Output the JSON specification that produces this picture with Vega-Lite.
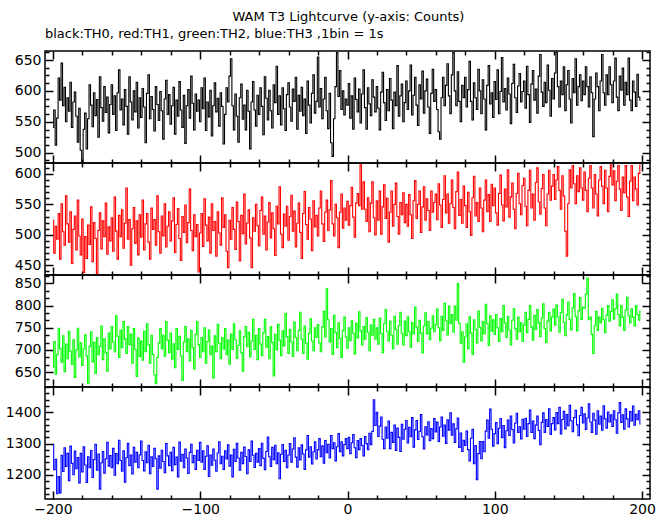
{
"$schema":"https://vega.github.io/schema/vega-lite/v6.json",
"background":"white",
"padding":{"left":4,"top":10,"right":19,"bottom":0},
"title":{"text":"WAM T3 Lightcurve (y-axis: Counts)","font":"DejaVu Sans","fontSize":13,"fontWeight":"normal","color":"black","anchor":"middle","offset":4,"dx":18},
"spacing":0,
"bounds":"flush",
"data":{"values":[
{"t":-200,"a":541,"b":524,"c":661,"d":1298},{"t":-199,"a":569,"b":470,"c":719,"d":1217},{"t":-198,"a":512,"b":514,"c":645,"d":1250},{"t":-197,"a":556,"b":493,"c":690,"d":1140},{"t":-196,"a":621,"b":535,"c":749,"d":1195},{"t":-195,"a":585,"b":460,"c":703,"d":1143},{"t":-194,"a":645,"b":551,"c":672,"d":1263},{"t":-193,"a":576,"b":505,"c":732,"d":1211},{"t":-192,"a":606,"b":483,"c":651,"d":1287},{"t":-191,"a":550,"b":564,"c":713,"d":1227},
{"t":-190,"a":589,"b":518,"c":680,"d":1269},{"t":-189,"a":567,"b":488,"c":742,"d":1182},{"t":-188,"a":614,"b":538,"c":697,"d":1292},{"t":-187,"a":541,"b":453,"c":667,"d":1237},{"t":-186,"a":582,"b":509,"c":723,"d":1201},{"t":-185,"a":598,"b":531,"c":638,"d":1276},{"t":-184,"a":559,"b":475,"c":700,"d":1220},{"t":-183,"a":517,"b":557,"c":749,"d":1256},{"t":-182,"a":572,"b":498,"c":684,"d":1175},{"t":-181,"a":504,"b":467,"c":716,"d":1269},
{"t":-180,"a":486,"b":526,"c":665,"d":1210},{"t":-179,"a":538,"b":438,"c":702,"d":1290},{"t":-178,"a":564,"b":497,"c":734,"d":1232},{"t":-177,"a":506,"b":461,"c":686,"d":1176},{"t":-176,"a":555,"b":516,"c":624,"d":1258},{"t":-175,"a":610,"b":484,"c":708,"d":1223},{"t":-174,"a":577,"b":546,"c":741,"d":1278},{"t":-173,"a":542,"b":456,"c":673,"d":1192},{"t":-172,"a":597,"b":520,"c":717,"d":1249},{"t":-171,"a":560,"b":494,"c":647,"d":1298},
{"t":-170,"a":586,"b":436,"c":728,"d":1215},{"t":-169,"a":525,"b":507,"c":689,"d":1267},{"t":-168,"a":623,"b":536,"c":708,"d":1155},{"t":-167,"a":573,"b":477,"c":754,"d":1239},{"t":-166,"a":551,"b":523,"c":678,"d":1275},{"t":-165,"a":607,"b":497,"c":725,"d":1206},{"t":-164,"a":565,"b":552,"c":694,"d":1252},{"t":-163,"a":590,"b":468,"c":652,"d":1304},{"t":-162,"a":532,"b":513,"c":738,"d":1228},{"t":-161,"a":578,"b":490,"c":702,"d":1262},
{"t":-160,"a":610,"b":528,"c":753,"d":1223},{"t":-159,"a":562,"b":473,"c":718,"d":1285},{"t":-158,"a":592,"b":562,"c":696,"d":1199},{"t":-157,"a":536,"b":506,"c":777,"d":1268},{"t":-156,"a":597,"b":460,"c":731,"d":1236},{"t":-155,"a":634,"b":532,"c":683,"d":1311},{"t":-154,"a":569,"b":497,"c":744,"d":1246},{"t":-153,"a":587,"b":541,"c":705,"d":1212},{"t":-152,"a":545,"b":478,"c":764,"d":1277},{"t":-151,"a":602,"b":519,"c":725,"d":1177},
{"t":-150,"a":575,"b":577,"c":692,"d":1255},{"t":-149,"a":530,"b":493,"c":753,"d":1301},{"t":-148,"a":623,"b":525,"c":712,"d":1230},{"t":-147,"a":582,"b":450,"c":735,"d":1264},{"t":-146,"a":553,"b":510,"c":670,"d":1203},{"t":-145,"a":600,"b":545,"c":748,"d":1288},{"t":-144,"a":566,"b":486,"c":701,"d":1241},{"t":-143,"a":614,"b":523,"c":640,"d":1272},{"t":-142,"a":540,"b":467,"c":727,"d":1223},{"t":-141,"a":589,"b":533,"c":685,"d":1264},
{"t":-140,"a":557,"b":496,"c":720,"d":1308},{"t":-139,"a":604,"b":557,"c":677,"d":1246},{"t":-138,"a":574,"b":475,"c":742,"d":1213},{"t":-137,"a":516,"b":518,"c":696,"d":1274},{"t":-136,"a":596,"b":535,"c":759,"d":1239},{"t":-135,"a":626,"b":488,"c":712,"d":1295},{"t":-134,"a":555,"b":460,"c":670,"d":1204},{"t":-133,"a":591,"b":544,"c":733,"d":1258},{"t":-132,"a":570,"b":509,"c":690,"d":1227},{"t":-131,"a":535,"b":525,"c":644,"d":1285},
{"t":-130,"a":607,"b":483,"c":624,"d":1252},{"t":-129,"a":578,"b":564,"c":683,"d":1155},{"t":-128,"a":552,"b":505,"c":716,"d":1261},{"t":-127,"a":599,"b":470,"c":748,"d":1222},{"t":-126,"a":568,"b":531,"c":703,"d":1279},{"t":-125,"a":522,"b":498,"c":733,"d":1243},{"t":-124,"a":587,"b":551,"c":686,"d":1207},{"t":-123,"a":617,"b":480,"c":764,"d":1300},{"t":-122,"a":562,"b":514,"c":722,"d":1261},{"t":-121,"a":594,"b":538,"c":694,"d":1230},
{"t":-120,"a":546,"b":490,"c":738,"d":1272},{"t":-119,"a":576,"b":523,"c":679,"d":1214},{"t":-118,"a":606,"b":561,"c":714,"d":1288},{"t":-117,"a":530,"b":471,"c":660,"d":1233},{"t":-116,"a":585,"b":517,"c":748,"d":1257},{"t":-115,"a":559,"b":543,"c":701,"d":1194},{"t":-114,"a":615,"b":494,"c":731,"d":1305},{"t":-113,"a":569,"b":458,"c":686,"d":1244},{"t":-112,"a":541,"b":530,"c":631,"d":1266},{"t":-111,"a":593,"b":504,"c":718,"d":1223},
{"t":-110,"a":515,"b":549,"c":753,"d":1283},{"t":-109,"a":576,"b":487,"c":696,"d":1254},{"t":-108,"a":602,"b":520,"c":725,"d":1205},{"t":-107,"a":556,"b":575,"c":675,"d":1272},{"t":-106,"a":624,"b":507,"c":744,"d":1298},{"t":-105,"a":580,"b":474,"c":705,"d":1239},{"t":-104,"a":537,"b":533,"c":657,"d":1262},{"t":-103,"a":595,"b":497,"c":735,"d":1218},{"t":-102,"a":567,"b":517,"c":764,"d":1279},{"t":-101,"a":585,"b":439,"c":712,"d":1246},
{"t":-100,"a":550,"b":503,"c":683,"d":1304},{"t":-99,"a":605,"b":535,"c":728,"d":1241},{"t":-98,"a":571,"b":481,"c":696,"d":1277},{"t":-97,"a":621,"b":559,"c":750,"d":1218},{"t":-96,"a":536,"b":516,"c":670,"d":1260},{"t":-95,"a":582,"b":490,"c":719,"d":1293},{"t":-94,"a":558,"b":529,"c":745,"d":1195},{"t":-93,"a":601,"b":470,"c":689,"d":1264},{"t":-92,"a":527,"b":551,"c":709,"d":1231},{"t":-91,"a":576,"b":507,"c":637,"d":1283},
{"t":-90,"a":613,"b":522,"c":732,"d":1247},{"t":-89,"a":566,"b":465,"c":696,"d":1212},{"t":-88,"a":588,"b":538,"c":758,"d":1270},{"t":-87,"a":543,"b":503,"c":715,"d":1306},{"t":-86,"a":597,"b":483,"c":680,"d":1236},{"t":-85,"a":575,"b":561,"c":728,"d":1260},{"t":-84,"a":514,"b":512,"c":702,"d":1218},{"t":-83,"a":562,"b":533,"c":748,"d":1277},{"t":-82,"a":605,"b":473,"c":689,"d":1251},{"t":-81,"a":582,"b":446,"c":722,"d":1296},
{"t":-80,"a":624,"b":524,"c":668,"d":1228},{"t":-79,"a":652,"b":493,"c":736,"d":1264},{"t":-78,"a":576,"b":545,"c":701,"d":1194},{"t":-77,"a":537,"b":509,"c":759,"d":1282},{"t":-76,"a":595,"b":476,"c":723,"d":1243},{"t":-75,"a":559,"b":554,"c":681,"d":1301},{"t":-74,"a":517,"b":522,"c":710,"d":1254},{"t":-73,"a":589,"b":457,"c":743,"d":1215},{"t":-72,"a":611,"b":532,"c":694,"d":1272},{"t":-71,"a":554,"b":502,"c":652,"d":1236},
{"t":-70,"a":577,"b":567,"c":730,"d":1289},{"t":-69,"a":537,"b":485,"c":753,"d":1259},{"t":-68,"a":601,"b":519,"c":707,"d":1204},{"t":-67,"a":567,"b":541,"c":740,"d":1280},{"t":-66,"a":506,"b":495,"c":684,"d":1243},{"t":-65,"a":582,"b":446,"c":720,"d":1308},{"t":-64,"a":615,"b":528,"c":769,"d":1263},{"t":-63,"a":569,"b":506,"c":701,"d":1224},{"t":-62,"a":543,"b":550,"c":733,"d":1269},{"t":-61,"a":593,"b":515,"c":678,"d":1241},
{"t":-60,"a":562,"b":482,"c":748,"d":1284},{"t":-59,"a":605,"b":540,"c":713,"d":1230},{"t":-58,"a":575,"b":562,"c":687,"d":1301},{"t":-57,"a":529,"b":501,"c":739,"d":1253},{"t":-56,"a":623,"b":531,"c":769,"d":1217},{"t":-55,"a":588,"b":475,"c":706,"d":1275},{"t":-54,"a":553,"b":521,"c":730,"d":1321},{"t":-53,"a":601,"b":553,"c":680,"d":1258},{"t":-52,"a":568,"b":495,"c":752,"d":1227},{"t":-51,"a":540,"b":536,"c":717,"d":1288},
{"t":-50,"a":610,"b":510,"c":641,"d":1249},{"t":-49,"a":581,"b":466,"c":735,"d":1295},{"t":-48,"a":640,"b":547,"c":700,"d":1236},{"t":-47,"a":562,"b":518,"c":758,"d":1271},{"t":-46,"a":592,"b":579,"c":722,"d":1188},{"t":-45,"a":545,"b":501,"c":687,"d":1266},{"t":-44,"a":605,"b":479,"c":743,"d":1297},{"t":-43,"a":571,"b":534,"c":709,"d":1243},{"t":-42,"a":536,"b":514,"c":782,"d":1279},{"t":-41,"a":594,"b":547,"c":730,"d":1223},
{"t":-40,"a":613,"b":491,"c":692,"d":1264},{"t":-39,"a":574,"b":530,"c":746,"d":1300},{"t":-38,"a":551,"b":565,"c":718,"d":1241},{"t":-37,"a":603,"b":506,"c":685,"d":1283},{"t":-36,"a":583,"b":539,"c":763,"d":1319},{"t":-35,"a":622,"b":480,"c":728,"d":1257},{"t":-34,"a":538,"b":519,"c":698,"d":1225},{"t":-33,"a":593,"b":552,"c":744,"d":1287},{"t":-32,"a":567,"b":504,"c":785,"d":1248},{"t":-31,"a":606,"b":461,"c":724,"d":1296},
{"t":-30,"a":560,"b":535,"c":692,"d":1267},{"t":-29,"a":587,"b":571,"c":754,"d":1218},{"t":-28,"a":531,"b":517,"c":715,"d":1280},{"t":-27,"a":616,"b":493,"c":679,"d":1326},{"t":-26,"a":577,"b":545,"c":737,"d":1257},{"t":-25,"a":548,"b":526,"c":770,"d":1290},{"t":-24,"a":596,"b":474,"c":720,"d":1235},{"t":-23,"a":626,"b":556,"c":698,"d":1274},{"t":-22,"a":564,"b":513,"c":750,"d":1306},{"t":-21,"a":583,"b":532,"c":728,"d":1251},
{"t":-20,"a":655,"b":498,"c":757,"d":1280},{"t":-19,"a":574,"b":544,"c":716,"d":1316},{"t":-18,"a":604,"b":572,"c":696,"d":1258},{"t":-17,"a":555,"b":518,"c":752,"d":1293},{"t":-16,"a":587,"b":489,"c":787,"d":1238},{"t":-15,"a":622,"b":537,"c":729,"d":1310},{"t":-14,"a":568,"b":557,"c":838,"d":1271},{"t":-13,"a":539,"b":507,"c":768,"d":1298},{"t":-12,"a":596,"b":541,"c":718,"d":1254},{"t":-11,"a":516,"b":589,"c":748,"d":1326},
{"t":-10,"a":494,"b":518,"c":690,"d":1284},{"t":-9,"a":555,"b":498,"c":778,"d":1303},{"t":-8,"a":607,"b":550,"c":739,"d":1245},{"t":-7,"a":662,"b":528,"c":705,"d":1290},{"t":-6,"a":591,"b":479,"c":761,"d":1332},{"t":-5,"a":633,"b":537,"c":726,"d":1274},{"t":-4,"a":570,"b":567,"c":683,"d":1306},{"t":-3,"a":600,"b":511,"c":744,"d":1261},{"t":-2,"a":561,"b":544,"c":774,"d":1297},{"t":-1,"a":587,"b":524,"c":729,"d":1316},
{"t":0,"a":577,"b":555,"c":704,"d":1284},{"t":1,"a":612,"b":516,"c":750,"d":1320},{"t":2,"a":556,"b":548,"c":721,"d":1268},{"t":3,"a":592,"b":578,"c":766,"d":1303},{"t":4,"a":538,"b":529,"c":737,"d":1329},{"t":5,"a":621,"b":496,"c":691,"d":1287},{"t":6,"a":586,"b":552,"c":760,"d":1255},{"t":7,"a":566,"b":568,"c":727,"d":1310},{"t":8,"a":603,"b":548,"c":786,"d":1281},{"t":9,"a":548,"b":615,"c":743,"d":1316},
{"t":10,"a":595,"b":542,"c":711,"d":1294},{"t":11,"a":634,"b":587,"c":753,"d":1261},{"t":12,"a":573,"b":542,"c":724,"d":1323},{"t":13,"a":538,"b":522,"c":773,"d":1300},{"t":14,"a":605,"b":561,"c":740,"d":1281},{"t":15,"a":579,"b":505,"c":698,"d":1333},{"t":16,"a":560,"b":552,"c":756,"d":1297},{"t":17,"a":618,"b":587,"c":733,"d":1339},{"t":18,"a":590,"b":528,"c":769,"d":1440},{"t":19,"a":566,"b":500,"c":724,"d":1358},
{"t":20,"a":607,"b":556,"c":750,"d":1400},{"t":21,"a":572,"b":524,"c":713,"d":1323},{"t":22,"a":537,"b":572,"c":772,"d":1356},{"t":23,"a":598,"b":501,"c":737,"d":1385},{"t":24,"a":630,"b":546,"c":694,"d":1314},{"t":25,"a":581,"b":582,"c":759,"d":1284},{"t":26,"a":552,"b":527,"c":791,"d":1353},{"t":27,"a":602,"b":560,"c":742,"d":1317},{"t":28,"a":568,"b":488,"c":720,"d":1372},{"t":29,"a":620,"b":537,"c":765,"d":1284},
{"t":30,"a":585,"b":572,"c":733,"d":1336},{"t":31,"a":539,"b":514,"c":703,"d":1304},{"t":32,"a":598,"b":550,"c":776,"d":1359},{"t":33,"a":576,"b":585,"c":746,"d":1278},{"t":34,"a":641,"b":530,"c":713,"d":1350},{"t":35,"a":559,"b":501,"c":755,"d":1320},{"t":36,"a":592,"b":553,"c":785,"d":1275},{"t":37,"a":611,"b":533,"c":737,"d":1362},{"t":38,"a":550,"b":569,"c":711,"d":1314},{"t":39,"a":581,"b":520,"c":765,"d":1346},
{"t":40,"a":616,"b":550,"c":732,"d":1374},{"t":41,"a":570,"b":514,"c":775,"d":1302},{"t":42,"a":600,"b":566,"c":741,"d":1352},{"t":43,"a":642,"b":533,"c":706,"d":1322},{"t":44,"a":561,"b":494,"c":762,"d":1383},{"t":45,"a":593,"b":556,"c":736,"d":1289},{"t":46,"a":622,"b":589,"c":797,"d":1344},{"t":47,"a":577,"b":527,"c":751,"d":1374},{"t":48,"a":544,"b":550,"c":719,"d":1313},{"t":49,"a":610,"b":572,"c":767,"d":1339},
{"t":50,"a":587,"b":504,"c":738,"d":1393},{"t":51,"a":632,"b":546,"c":693,"d":1322},{"t":52,"a":564,"b":579,"c":754,"d":1283},{"t":53,"a":600,"b":524,"c":784,"d":1354},{"t":54,"a":619,"b":559,"c":736,"d":1328},{"t":55,"a":574,"b":540,"c":764,"d":1370},{"t":56,"a":531,"b":507,"c":723,"d":1309},{"t":57,"a":596,"b":572,"c":749,"d":1348},{"t":58,"a":635,"b":537,"c":777,"d":1316},{"t":59,"a":583,"b":553,"c":741,"d":1380},
{"t":60,"a":602,"b":567,"c":757,"d":1337},{"t":61,"a":570,"b":525,"c":792,"d":1369},{"t":62,"a":534,"b":584,"c":750,"d":1307},{"t":63,"a":522,"b":549,"c":721,"d":1353},{"t":64,"a":589,"b":512,"c":776,"d":1385},{"t":65,"a":622,"b":558,"c":744,"d":1324},{"t":66,"a":576,"b":597,"c":805,"d":1359},{"t":67,"a":609,"b":536,"c":766,"d":1301},{"t":68,"a":644,"b":567,"c":734,"d":1376},{"t":69,"a":592,"b":519,"c":799,"d":1343},
{"t":70,"a":563,"b":551,"c":760,"d":1398},{"t":71,"a":626,"b":590,"c":780,"d":1327},{"t":72,"a":662,"b":545,"c":740,"d":1363},{"t":73,"a":600,"b":510,"c":799,"d":1304},{"t":74,"a":576,"b":571,"c":767,"d":1347},{"t":75,"a":631,"b":603,"c":850,"d":1382},{"t":76,"a":583,"b":532,"c":760,"d":1288},{"t":77,"a":550,"b":558,"c":715,"d":1334},{"t":78,"a":609,"b":519,"c":741,"d":1275},{"t":79,"a":589,"b":580,"c":672,"d":1311},
{"t":80,"a":622,"b":548,"c":729,"d":1294},{"t":81,"a":574,"b":512,"c":759,"d":1340},{"t":82,"a":602,"b":570,"c":703,"d":1281},{"t":83,"a":648,"b":538,"c":775,"d":1245},{"t":84,"a":583,"b":499,"c":738,"d":1317},{"t":85,"a":553,"b":561,"c":690,"d":1346},{"t":86,"a":613,"b":596,"c":768,"d":1236},{"t":87,"a":589,"b":531,"c":746,"d":1294},{"t":88,"a":570,"b":553,"c":716,"d":1185},{"t":89,"a":635,"b":522,"c":788,"d":1268},
{"t":90,"a":600,"b":577,"c":751,"d":1307},{"t":91,"a":563,"b":544,"c":720,"d":1252},{"t":92,"a":618,"b":505,"c":764,"d":1307},{"t":93,"a":587,"b":557,"c":736,"d":1274},{"t":94,"a":537,"b":590,"c":803,"d":1340},{"t":95,"a":609,"b":538,"c":759,"d":1375},{"t":96,"a":641,"b":566,"c":710,"d":1317},{"t":97,"a":579,"b":522,"c":777,"d":1410},{"t":98,"a":597,"b":583,"c":742,"d":1346},{"t":99,"a":557,"b":548,"c":768,"d":1292},
{"t":100,"a":615,"b":577,"c":735,"d":1332},{"t":101,"a":586,"b":536,"c":780,"d":1367},{"t":102,"a":634,"b":516,"c":750,"d":1300},{"t":103,"a":563,"b":568,"c":719,"d":1349},{"t":104,"a":599,"b":598,"c":771,"d":1380},{"t":105,"a":654,"b":549,"c":741,"d":1319},{"t":106,"a":582,"b":523,"c":800,"d":1358},{"t":107,"a":604,"b":575,"c":761,"d":1287},{"t":108,"a":569,"b":546,"c":728,"d":1341},{"t":109,"a":621,"b":607,"c":776,"d":1375},
{"t":110,"a":595,"b":529,"c":745,"d":1326},{"t":111,"a":547,"b":562,"c":711,"d":1388},{"t":112,"a":612,"b":585,"c":767,"d":1345},{"t":113,"a":643,"b":542,"c":793,"d":1302},{"t":114,"a":589,"b":510,"c":748,"d":1365},{"t":115,"a":565,"b":568,"c":724,"d":1397},{"t":116,"a":608,"b":601,"c":774,"d":1336},{"t":117,"a":628,"b":551,"c":741,"d":1354},{"t":118,"a":582,"b":533,"c":761,"d":1315},{"t":119,"a":599,"b":581,"c":719,"d":1378},
{"t":120,"a":616,"b":593,"c":756,"d":1346},{"t":121,"a":572,"b":547,"c":785,"d":1381},{"t":122,"a":640,"b":515,"c":739,"d":1323},{"t":123,"a":594,"b":573,"c":769,"d":1364},{"t":124,"a":549,"b":606,"c":800,"d":1407},{"t":125,"a":611,"b":544,"c":752,"d":1336},{"t":126,"a":633,"b":567,"c":722,"d":1372},{"t":127,"a":585,"b":524,"c":778,"d":1316},{"t":128,"a":603,"b":586,"c":746,"d":1359},{"t":129,"a":564,"b":610,"c":791,"d":1388},
{"t":130,"a":624,"b":554,"c":761,"d":1342},{"t":131,"a":659,"b":534,"c":730,"d":1297},{"t":132,"a":598,"b":576,"c":772,"d":1368},{"t":133,"a":575,"b":599,"c":804,"d":1398},{"t":134,"a":614,"b":544,"c":748,"d":1336},{"t":135,"a":581,"b":515,"c":717,"d":1377},{"t":136,"a":642,"b":567,"c":765,"d":1355},{"t":137,"a":601,"b":606,"c":785,"d":1411},{"t":138,"a":559,"b":557,"c":743,"d":1329},{"t":139,"a":620,"b":580,"c":774,"d":1364},
{"t":140,"a":587,"b":599,"c":792,"d":1383},{"t":141,"a":629,"b":558,"c":756,"d":1344},{"t":142,"a":662,"b":590,"c":801,"d":1399},{"t":143,"a":607,"b":612,"c":775,"d":1364},{"t":144,"a":574,"b":573,"c":740,"d":1416},{"t":145,"a":616,"b":542,"c":784,"d":1331},{"t":146,"a":594,"b":597,"c":814,"d":1377},{"t":147,"a":639,"b":564,"c":762,"d":1403},{"t":148,"a":568,"b":506,"c":732,"d":1347},{"t":149,"a":610,"b":465,"c":779,"d":1393},
{"t":150,"a":633,"b":551,"c":808,"d":1357},{"t":151,"a":587,"b":607,"c":769,"d":1422},{"t":152,"a":548,"b":577,"c":745,"d":1373},{"t":153,"a":620,"b":614,"c":795,"d":1338},{"t":154,"a":597,"b":584,"c":827,"d":1383},{"t":155,"a":652,"b":551,"c":775,"d":1406},{"t":156,"a":577,"b":597,"c":743,"d":1360},{"t":157,"a":607,"b":571,"c":788,"d":1325},{"t":158,"a":626,"b":610,"c":818,"d":1390},{"t":159,"a":584,"b":577,"c":769,"d":1416},
{"t":160,"a":616,"b":557,"c":796,"d":1366},{"t":161,"a":594,"b":603,"c":794,"d":1395},{"t":162,"a":639,"b":573,"c":826,"d":1345},{"t":163,"a":607,"b":538,"c":862,"d":1382},{"t":164,"a":574,"b":593,"c":768,"d":1427},{"t":165,"a":623,"b":614,"c":774,"d":1369},{"t":166,"a":597,"b":577,"c":735,"d":1336},{"t":167,"a":526,"b":544,"c":692,"d":1397},{"t":168,"a":587,"b":599,"c":755,"d":1375},{"t":169,"a":629,"b":567,"c":787,"d":1330},
{"t":170,"a":607,"b":531,"c":744,"d":1405},{"t":171,"a":568,"b":590,"c":774,"d":1362},{"t":172,"a":616,"b":612,"c":761,"d":1388},{"t":173,"a":659,"b":580,"c":794,"d":1343},{"t":174,"a":597,"b":551,"c":768,"d":1421},{"t":175,"a":577,"b":606,"c":739,"d":1379},{"t":176,"a":626,"b":577,"c":778,"d":1349},{"t":177,"a":594,"b":538,"c":800,"d":1401},{"t":178,"a":639,"b":596,"c":765,"d":1369},{"t":179,"a":610,"b":615,"c":787,"d":1392},
{"t":180,"a":581,"b":582,"c":813,"d":1355},{"t":181,"a":616,"b":605,"c":770,"d":1405},{"t":182,"a":653,"b":556,"c":793,"d":1376},{"t":183,"a":590,"b":588,"c":826,"d":1333},{"t":184,"a":568,"b":614,"c":780,"d":1398},{"t":185,"a":624,"b":575,"c":754,"d":1431},{"t":186,"a":601,"b":540,"c":800,"d":1368},{"t":187,"a":637,"b":595,"c":774,"d":1392},{"t":188,"a":577,"b":569,"c":744,"d":1346},{"t":189,"a":614,"b":614,"c":790,"d":1411},
{"t":190,"a":594,"b":562,"c":819,"d":1379},{"t":191,"a":653,"b":530,"c":777,"d":1353},{"t":192,"a":585,"b":588,"c":761,"d":1402},{"t":193,"a":568,"b":614,"c":793,"d":1372},{"t":194,"a":616,"b":556,"c":774,"d":1420},{"t":195,"a":598,"b":595,"c":754,"d":1359},{"t":196,"a":575,"b":575,"c":800,"d":1394},{"t":197,"a":627,"b":549,"c":780,"d":1376},{"t":198,"a":590,"b":601,"c":767,"d":1405},{"t":199,"a":585,"b":615,"c":787,"d":1363}
]},
"vconcat":[
{"width":605,"height":112,
 "title":{"text":"black:TH0, red:TH1, green:TH2, blue:TH3 ,1bin = 1s","anchor":"start","frame":"group","font":"DejaVu Sans","fontSize":13,"fontWeight":"normal","color":"black","offset":4},
 "layer":[
  {"mark":{"type":"line","interpolate":"step","color":"black","strokeWidth":1.1,"clip":true},
   "encoding":{
    "x":{"field":"t","type":"quantitative","scale":{"domain":[-205.4,205.4],"nice":false,"zero":false},
     "axis":{"orient":"bottom","title":null,"labels":false,"values":[-200,-180,-160,-140,-120,-100,-80,-60,-40,-20,0,20,40,60,80,100,120,140,160,180,200],"tickSize":{"condition":{"test":"datum.value % 100 === 0","value":-8},"value":-4}}},
    "y":{"field":"a","type":"quantitative","scale":{"domain":[483.3,664.6],"nice":false,"zero":false},
     "axis":{"orient":"left","title":null,"format":"d","values":[487.5,500,512.5,525,537.5,550,562.5,575,587.5,600,612.5,625,637.5,650,662.5],"labelExpr":"datum.value % 50 === 0 ? datum.label : ''","tickSize":{"condition":{"test":"datum.value % 50 === 0","value":-8},"value":-4}}}}},
  {"mark":{"type":"line","interpolate":"step","color":"black","strokeWidth":1,"clip":true,"opacity":0},
   "encoding":{
    "x":{"field":"t","type":"quantitative","scale":{"domain":[-205.4,205.4],"nice":false,"zero":false},
     "axis":{"orient":"top","title":null,"labels":false,"values":[-200,-180,-160,-140,-120,-100,-80,-60,-40,-20,0,20,40,60,80,100,120,140,160,180,200],"tickSize":{"condition":{"test":"datum.value % 100 === 0","value":-8},"value":-4}}},
    "y":{"field":"a","type":"quantitative","scale":{"domain":[483.3,664.6],"nice":false,"zero":false},
     "axis":{"orient":"right","title":null,"labels":false,"values":[487.5,500,512.5,525,537.5,550,562.5,575,587.5,600,612.5,625,637.5,650,662.5],"tickSize":{"condition":{"test":"datum.value % 50 === 0","value":-8},"value":-4}}}}}
 ],
 "resolve":{"axis":{"x":"independent","y":"independent"}}
},
{"width":605,"height":112,
 "layer":[
  {"mark":{"type":"line","interpolate":"step","color":"#ff0000","strokeWidth":1.1,"clip":true},
   "encoding":{
    "x":{"field":"t","type":"quantitative","scale":{"domain":[-205.4,205.4],"nice":false,"zero":false},
     "axis":{"orient":"bottom","title":null,"labels":false,"values":[-200,-180,-160,-140,-120,-100,-80,-60,-40,-20,0,20,40,60,80,100,120,140,160,180,200],"tickSize":{"condition":{"test":"datum.value % 100 === 0","value":-8},"value":-4}}},
    "y":{"field":"b","type":"quantitative","scale":{"domain":[434,618],"nice":false,"zero":false},
     "axis":{"orient":"left","title":null,"format":"d","values":[440,450,460,470,480,490,500,510,520,530,540,550,560,570,580,590,600,610],"labelExpr":"datum.value % 50 === 0 ? datum.label : ''","tickSize":{"condition":{"test":"datum.value % 50 === 0","value":-8},"value":-4}}}}},
  {"mark":{"type":"line","interpolate":"step","color":"#ff0000","strokeWidth":1,"clip":true,"opacity":0},
   "encoding":{
    "x":{"field":"t","type":"quantitative","scale":{"domain":[-205.4,205.4],"nice":false,"zero":false},
     "axis":{"orient":"top","title":null,"labels":false,"values":[-200,-180,-160,-140,-120,-100,-80,-60,-40,-20,0,20,40,60,80,100,120,140,160,180,200],"tickSize":{"condition":{"test":"datum.value % 100 === 0","value":-8},"value":-4}}},
    "y":{"field":"b","type":"quantitative","scale":{"domain":[434,618],"nice":false,"zero":false},
     "axis":{"orient":"right","title":null,"labels":false,"values":[440,450,460,470,480,490,500,510,520,530,540,550,560,570,580,590,600,610],"tickSize":{"condition":{"test":"datum.value % 50 === 0","value":-8},"value":-4}}}}}
 ],
 "resolve":{"axis":{"x":"independent","y":"independent"}}
},
{"width":605,"height":112,
 "layer":[
  {"mark":{"type":"line","interpolate":"step","color":"#00ff00","strokeWidth":1.1,"clip":true},
   "encoding":{
    "x":{"field":"t","type":"quantitative","scale":{"domain":[-205.4,205.4],"nice":false,"zero":false},
     "axis":{"orient":"bottom","title":null,"labels":false,"values":[-200,-180,-160,-140,-120,-100,-80,-60,-40,-20,0,20,40,60,80,100,120,140,160,180,200],"tickSize":{"condition":{"test":"datum.value % 100 === 0","value":-8},"value":-4}}},
    "y":{"field":"c","type":"quantitative","scale":{"domain":[616.3,869.1],"nice":false,"zero":false},
     "axis":{"orient":"left","title":null,"format":"d","values":[633.333,650,666.667,683.333,700,716.667,733.333,750,766.667,783.333,800,816.667,833.333,850,866.667],"labelExpr":"datum.value % 50 === 0 ? datum.label : ''","tickSize":{"condition":{"test":"datum.value % 50 === 0","value":-8},"value":-4}}}}},
  {"mark":{"type":"line","interpolate":"step","color":"#00ff00","strokeWidth":1,"clip":true,"opacity":0},
   "encoding":{
    "x":{"field":"t","type":"quantitative","scale":{"domain":[-205.4,205.4],"nice":false,"zero":false},
     "axis":{"orient":"top","title":null,"labels":false,"values":[-200,-180,-160,-140,-120,-100,-80,-60,-40,-20,0,20,40,60,80,100,120,140,160,180,200],"tickSize":{"condition":{"test":"datum.value % 100 === 0","value":-8},"value":-4}}},
    "y":{"field":"c","type":"quantitative","scale":{"domain":[616.3,869.1],"nice":false,"zero":false},
     "axis":{"orient":"right","title":null,"labels":false,"values":[633.333,650,666.667,683.333,700,716.667,733.333,750,766.667,783.333,800,816.667,833.333,850,866.667],"tickSize":{"condition":{"test":"datum.value % 50 === 0","value":-8},"value":-4}}}}}
 ],
 "resolve":{"axis":{"x":"independent","y":"independent"}}
},
{"width":605,"height":112,
 "layer":[
  {"mark":{"type":"line","interpolate":"step","color":"#0000ff","strokeWidth":1.1,"clip":true},
   "encoding":{
    "x":{"field":"t","type":"quantitative","scale":{"domain":[-205.4,205.4],"nice":false,"zero":false},
     "axis":{"orient":"bottom","title":null,"labelPadding":11,"values":[-200,-180,-160,-140,-120,-100,-80,-60,-40,-20,0,20,40,60,80,100,120,140,160,180,200],"labelExpr":"datum.value % 100 === 0 ? datum.label : ''","tickSize":{"condition":{"test":"datum.value % 100 === 0","value":-8},"value":-4}}},
    "y":{"field":"d","type":"quantitative","scale":{"domain":[1123.4,1480.7],"nice":false,"zero":false},
     "axis":{"orient":"left","title":null,"format":"d","values":[1140,1160,1180,1200,1220,1240,1260,1280,1300,1320,1340,1360,1380,1400,1420,1440,1460,1480],"labelExpr":"datum.value % 100 === 0 ? datum.label : ''","tickSize":{"condition":{"test":"datum.value % 100 === 0","value":-8},"value":-4}}}}},
  {"mark":{"type":"line","interpolate":"step","color":"#0000ff","strokeWidth":1,"clip":true,"opacity":0},
   "encoding":{
    "x":{"field":"t","type":"quantitative","scale":{"domain":[-205.4,205.4],"nice":false,"zero":false},
     "axis":{"orient":"top","title":null,"labels":false,"values":[-200,-180,-160,-140,-120,-100,-80,-60,-40,-20,0,20,40,60,80,100,120,140,160,180,200],"tickSize":{"condition":{"test":"datum.value % 100 === 0","value":-8},"value":-4}}},
    "y":{"field":"d","type":"quantitative","scale":{"domain":[1123.4,1480.7],"nice":false,"zero":false},
     "axis":{"orient":"right","title":null,"labels":false,"values":[1140,1160,1180,1200,1220,1240,1260,1280,1300,1320,1340,1360,1380,1400,1420,1440,1460,1480],"tickSize":{"condition":{"test":"datum.value % 100 === 0","value":-8},"value":-4}}}}}
 ],
 "resolve":{"axis":{"x":"independent","y":"independent"}}
}
],
"config":{
 "view":{"stroke":"black","strokeWidth":1.5},
 "axis":{"domain":false,"grid":false,"labelFont":"DejaVu Sans","labelFontSize":14,"labelColor":"black","tickColor":"black","tickWidth":1.5,"labelPadding":12,"labelOverlap":false,"labelFlush":false,"labelBound":false}
}
}
